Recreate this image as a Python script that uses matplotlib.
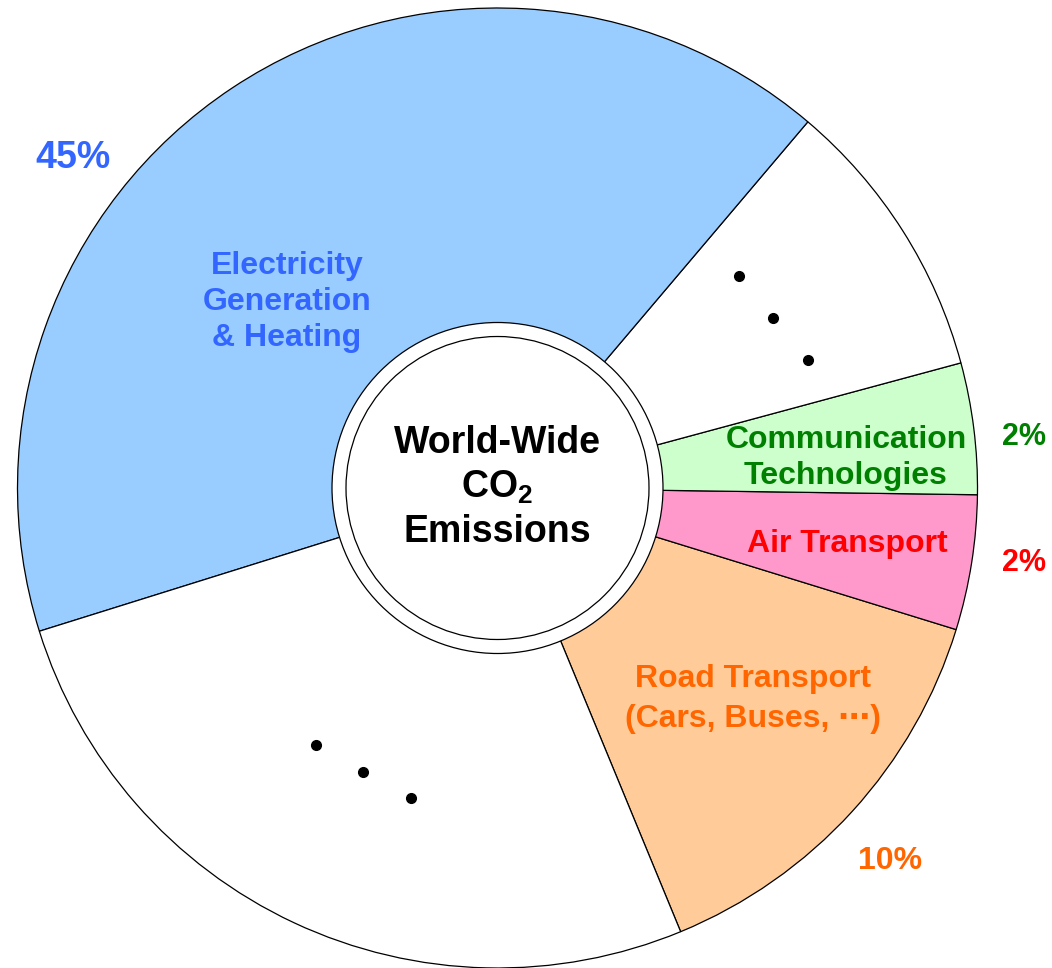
import matplotlib
matplotlib.use("Agg")
import matplotlib.pyplot as plt
from matplotlib.patches import Circle

plt.rcParams["font.family"] = ["Liberation Sans", "DejaVu Sans"]
plt.rcParams["font.weight"] = "bold"
plt.rcParams["mathtext.fontset"] = "custom"
plt.rcParams["mathtext.rm"] = "Liberation Sans:bold"
plt.rcParams["mathtext.default"] = "rm"

# wedge shares (share of full circle), counter-clockwise
# starting from the lower edge of the road transport wedge
sectors = ["Road", "Air", "Communication", "Other1", "Electricity", "Other2"]
shares = [14.0, 4.54, 4.42, 9.61, 41.0, 26.4]
colors = ["#FFCC99", "#FF99CC", "#CCFFCC", "#FFFFFF", "#99CCFF", "#FFFFFF"]

# printed labels and percentages
labels = {
    "Electricity": "Electricity\nGeneration\n& Heating",
    "Communication": "Communication\nTechnologies",
    "Air": "Air Transport",
    "Road": "Road Transport\n(Cars, Buses, \u22ef)",
}
percents = {"Electricity": "45%", "Communication": "2%", "Air": "2%", "Road": "10%"}
text_colors = {
    "Electricity": "#3366FF",
    "Communication": "#008000",
    "Air": "#FF0000",
    "Road": "#FF6600",
}

W, H = 1052, 968
fig = plt.figure(figsize=(W / 100, H / 100), dpi=100)
ax = fig.add_axes([0, 0, 1, 1])


def px(x, y):
    # pixel position (from top-left) -> data coords
    return x, H - y


cx, cy = px(497.5, 488)

ax.pie(
    shares,
    colors=colors,
    startangle=-67.57,
    counterclock=True,
    radius=480,
    center=(cx, cy),
    wedgeprops=dict(edgecolor="black", linewidth=0.9),
)

# white hub with double ring
ax.add_patch(Circle((cx, cy), 165.5, facecolor="white", edgecolor="black", lw=0.9, zorder=5))
ax.add_patch(Circle((cx, cy), 151.5, facecolor="white", edgecolor="black", lw=0.9, zorder=6))

# centre title, one line at a time so the subscript sits right
ax.text(cx, cy + 45, "World-Wide", ha="center", va="center", fontsize=27, zorder=7)
ax.text(cx, cy + 1, r"CO$_2$", ha="center", va="center", fontsize=27, zorder=7)
ax.text(cx, cy - 44, "Emissions", ha="center", va="center", fontsize=27, zorder=7)

# labels inside wedges
label_pos = {
    "Electricity": (287, 302),
    "Communication": (846, 458),
    "Air": (847, 544),
    "Road": (753, 699),
}
label_spacing = {"Electricity": 1.24, "Communication": 1.26, "Air": 1.2, "Road": 1.4}
pct_pos = {
    "Electricity": (73, 158),
    "Communication": (1024, 437),
    "Air": (1024, 563),
    "Road": (890, 861),
}
pct_size = {"Electricity": 27, "Communication": 22, "Air": 22, "Road": 23}
for key, txt in labels.items():
    x, y = px(*label_pos[key])
    ax.text(x, y, txt, ha="center", va="center", fontsize=23,
            color=text_colors[key], linespacing=label_spacing[key], zorder=7)
    x, y = px(*pct_pos[key])
    ax.text(x, y, percents[key], ha="center", va="center", fontsize=pct_size[key],
            color=text_colors[key], zorder=7)

# ellipsis dots in the unlabelled wedges
dots = [(739, 276), (773, 318), (808, 360), (316, 745), (363, 772), (411, 798)]
ax.plot([px(*d)[0] for d in dots], [px(*d)[1] for d in dots], "o",
        color="black", markersize=7, linestyle="none", zorder=7)

ax.set_xlim(0, W)
ax.set_ylim(0, H)
ax.set_aspect("auto")
ax.axis("off")

fig.savefig("out.png", dpi=100, facecolor="white")
